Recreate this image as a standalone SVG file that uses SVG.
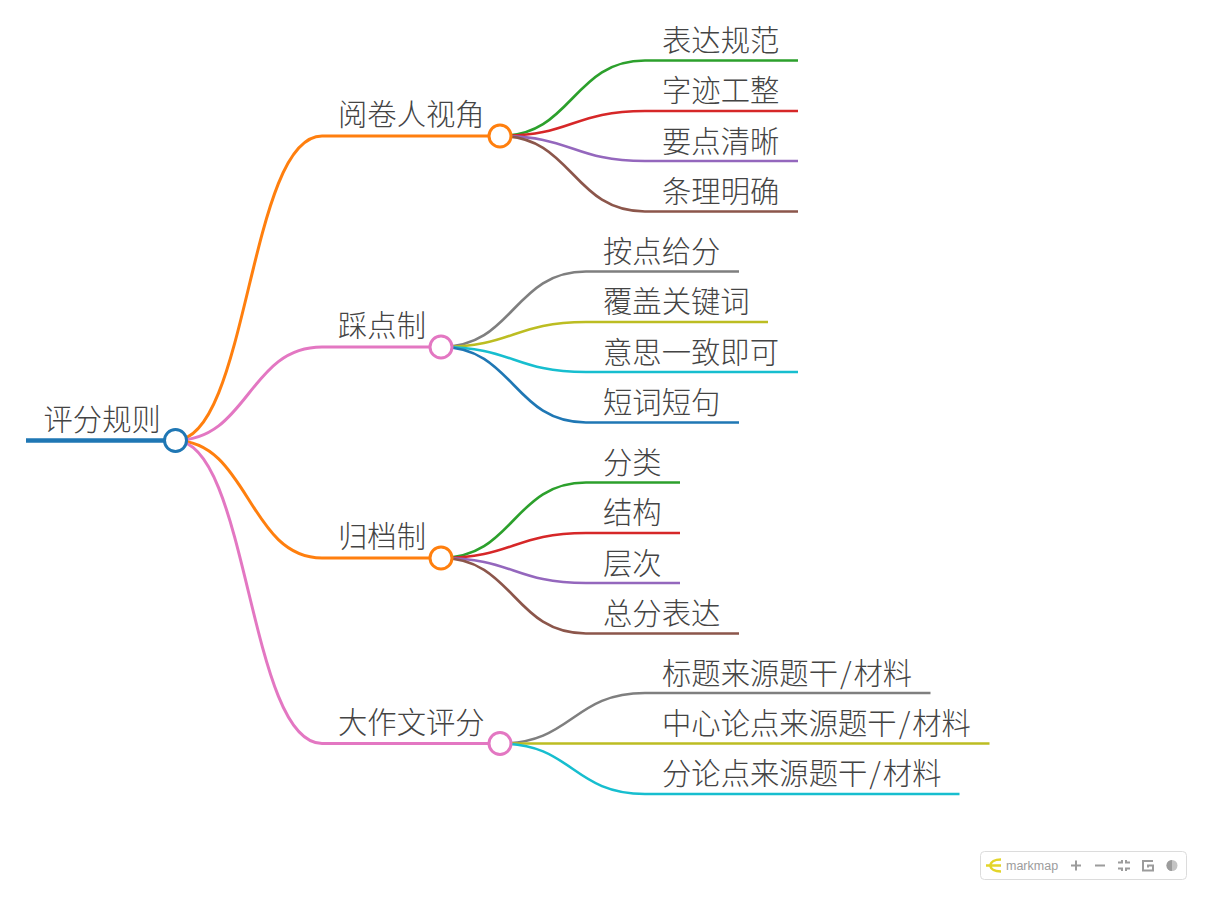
<svg xmlns="http://www.w3.org/2000/svg" width="1207" height="900" viewBox="0 0 1207 900">
<style>
text{font-family:"Noto Sans CJK SC","Noto Sans",sans-serif;font-size:29.330px;font-weight:300;fill:#444}
.l{fill:none;stroke-width:2.600}
.n{fill:#fff;stroke-width:3}
.i{fill:none;stroke:#9c9c9c;stroke-width:2}
.blue{stroke:#1f77b4}.org{stroke:#ff7f0e}.grn{stroke:#2ca02c}.red{stroke:#d62728}.pur{stroke:#9467bd}.brn{stroke:#8c564b}.pnk{stroke:#e377c2}.gry{stroke:#7f7f7f}.oli{stroke:#bcbd22}.cyn{stroke:#17becf}
</style>
<rect width="1207" height="900" fill="#fff"/>
<g id="connectors">
<path class="l blue" style="stroke-width:4.500" d="M26 440.500H175"/>
<path class="l org" style="stroke-width:3" d="M175 440.500C248.500 440.500 248.500 136 322 136H500"/>
<path class="l pnk" style="stroke-width:3" d="M175 440.500C248.500 440.500 248.500 347 322 347H441"/>
<path class="l org" style="stroke-width:3" d="M175 440.500C248.500 440.500 248.500 558 322 558H441"/>
<path class="l pnk" style="stroke-width:3" d="M175 440.500C248.500 440.500 248.500 743.500 322 743.500H500"/>
<path class="l grn" d="M500 136C572.500 136 572.500 60.500 645 60.500H798"/>
<path class="l red" d="M500 136C572.500 136 572.500 111 645 111H798"/>
<path class="l pur" d="M500 136C572.500 136 572.500 161 645 161H798"/>
<path class="l brn" d="M500 136C572.500 136 572.500 211.500 645 211.500H798"/>
<path class="l gry" d="M441 347C513.500 347 513.500 271.500 586 271.500H739"/>
<path class="l oli" d="M441 347C513.500 347 513.500 322 586 322H768"/>
<path class="l cyn" d="M441 347C513.500 347 513.500 372 586 372H798"/>
<path class="l blue" d="M441 347C513.500 347 513.500 422.500 586 422.500H739"/>
<path class="l grn" d="M441 558C513.500 558 513.500 482.500 586 482.500H680"/>
<path class="l red" d="M441 558C513.500 558 513.500 533 586 533H680"/>
<path class="l pur" d="M441 558C513.500 558 513.500 583 586 583H680"/>
<path class="l brn" d="M441 558C513.500 558 513.500 633.500 586 633.500H739"/>
<path class="l gry" d="M500 743.500C572.500 743.500 572.500 693 645 693H930.500"/>
<path class="l oli" d="M500 743.500H989.500"/>
<path class="l cyn" d="M500 743.500C572.500 743.500 572.500 794 645 794H959.500"/>
</g>
<g id="root"><text x="43.500" y="430">评分规则</text><circle class="n blue" cx="175.500" cy="440.500" r="11"/></g>
<g id="n1"><text x="338" y="125">阅卷人视角</text><circle class="n org" cx="500" cy="136" r="11"/></g>
<g id="n2"><text x="338" y="336">踩点制</text><circle class="n pnk" cx="441" cy="347" r="11"/></g>
<g id="n3"><text x="338" y="547">归档制</text><circle class="n org" cx="441" cy="558" r="11"/></g>
<g id="n4"><text x="338" y="733">大作文评分</text><circle class="n pnk" cx="500" cy="743.500" r="11"/></g>
<g id="n1-1"><text x="662" y="50.500">表达规范</text></g>
<g id="n1-2"><text x="662" y="100.500">字迹工整</text></g>
<g id="n1-3"><text x="662" y="151.500">要点清晰</text></g>
<g id="n1-4"><text x="662" y="201.500">条理明确</text></g>
<g id="n2-1"><text x="603" y="261.500">按点给分</text></g>
<g id="n2-2"><text x="603" y="311.500">覆盖关键词</text></g>
<g id="n2-3"><text x="603" y="362.500">意思一致即可</text></g>
<g id="n2-4"><text x="603" y="412.500">短词短句</text></g>
<g id="n3-1"><text x="603" y="472.500">分类</text></g>
<g id="n3-2"><text x="603" y="522.500">结构</text></g>
<g id="n3-3"><text x="603" y="573.500">层次</text></g>
<g id="n3-4"><text x="603" y="623.500">总分表达</text></g>
<g id="n4-1"><text x="662" y="683.500">标题来源题干<tspan dx="2">/</tspan><tspan dx="2">材料</tspan></text></g>
<g id="n4-2"><text x="662" y="733.500">中心论点来源题干<tspan dx="2">/</tspan><tspan dx="2">材料</tspan></text></g>
<g id="n4-3"><text x="662" y="783.500">分论点来源题干<tspan dx="2">/</tspan><tspan dx="2">材料</tspan></text></g>
<g id="toolbar">
<rect x="980.500" y="851.500" width="206" height="28" rx="4" fill="#fff" stroke="#dcdcdc"/>
<path d="M986 865.500H1001M1001 859.500C993 859.500 991 862 990 865.500C991 869 993 871.500 1001 871.500" fill="none" stroke="#e3d52a" stroke-width="2.500"/>
<text x="1006" y="870" style="font-family:'Liberation Sans',sans-serif;font-size:12.500px;font-weight:400;fill:#9c9c9c">markmap</text>
<path class="i" d="M1071 865.500H1081M1076 860.500V870.500M1095 865.500H1105"/>
<path class="i" d="M1118 862.500H1122V860M1126 860V862.500H1130M1118 868.500H1122V871M1126 871V868.500H1130"/>
<path class="i" d="M1153 861H1143V870.500H1153V865.500H1148V867.500"/>
<circle cx="1172" cy="865.500" r="5.500" fill="#c4c4c4"/>
<path d="M1172 860A5.500 5.500 0 0 0 1172 871Z" fill="#9c9c9c"/>
</g>
</svg>
